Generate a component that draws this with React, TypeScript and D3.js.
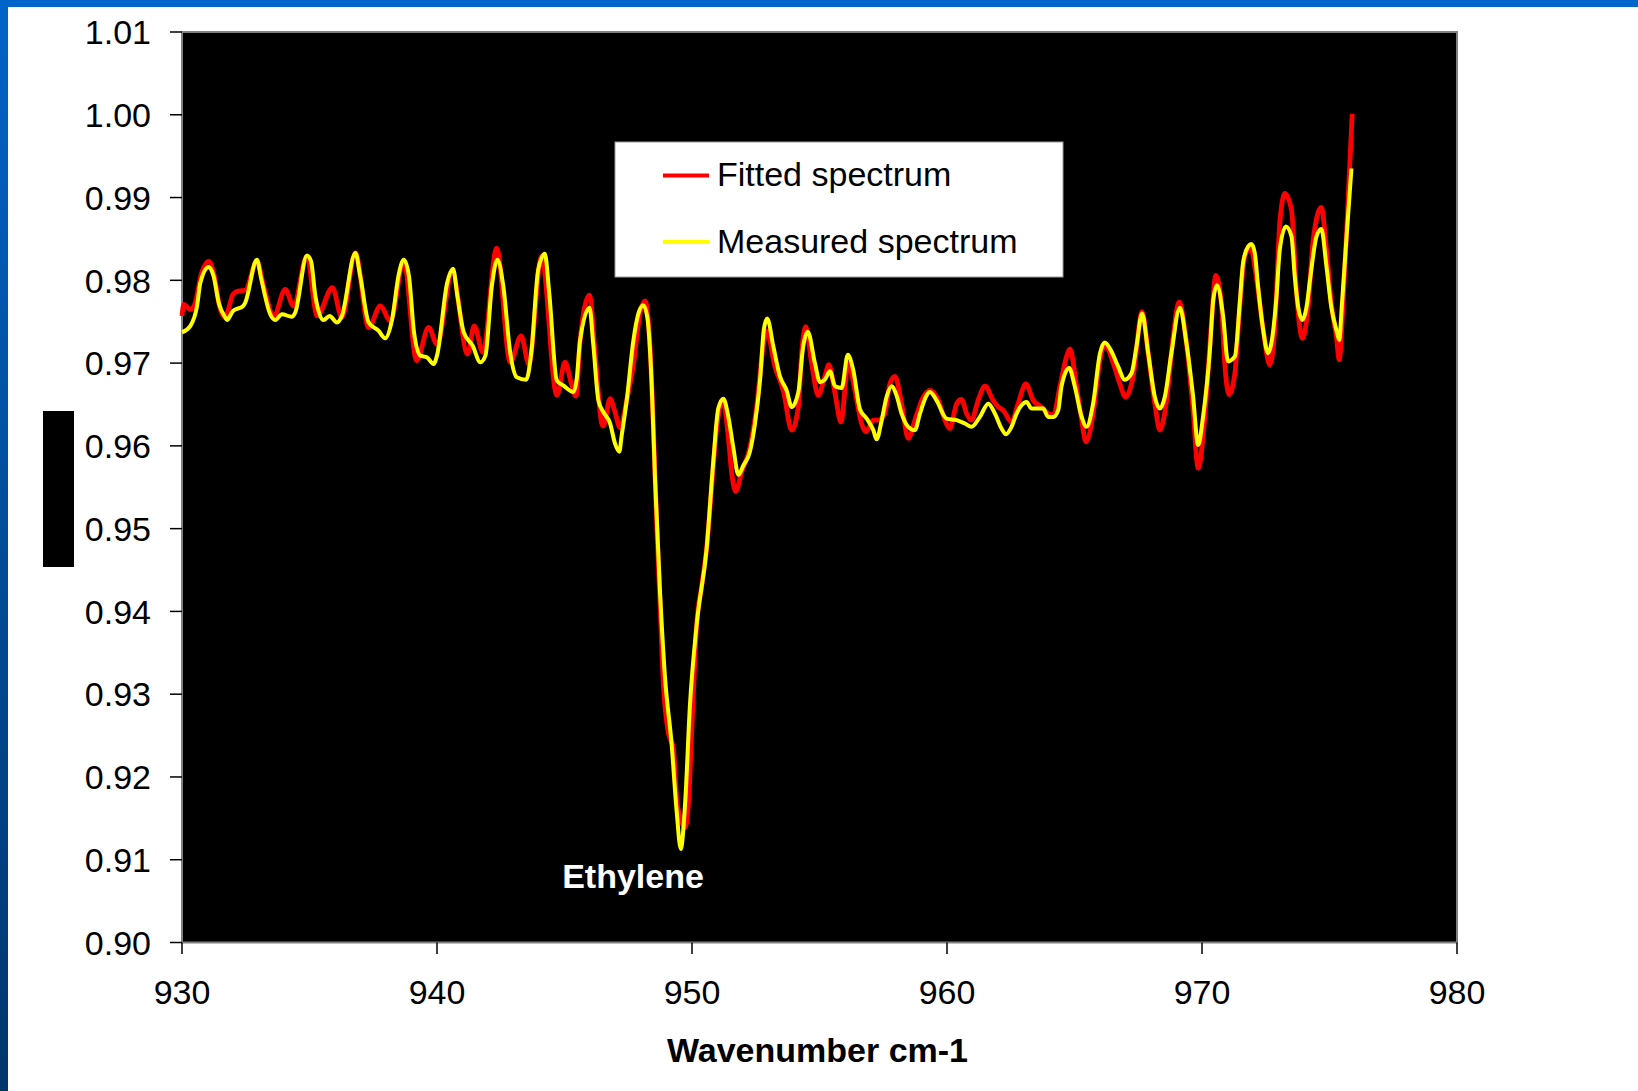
import React from "react";
import * as d3 from "d3";

const fittedWavenumber = [930.0,930.07,930.33,930.5,930.77,931.05,931.24,931.5,931.7,931.8,932.0,932.2,932.48,932.94,933.2,933.6,934.05,934.37,934.9,935.3,935.9,936.27,936.8,937.32,937.78,938.17,938.7,939.2,939.67,940.0,940.6,941.2,941.46,941.8,942.34,942.87,943.3,943.6,944.1,944.7,945.02,945.28,945.45,945.61,945.98,946.2,946.46,946.52,946.79,946.98,947.18,947.44,947.7,947.96,948.16,948.35,948.48,948.62,948.75,948.88,949.07,949.27,949.4,949.56,949.73,949.86,950.0,950.18,950.38,950.58,950.77,950.97,951.2,951.42,951.55,951.71,951.95,952.27,952.53,952.8,952.93,953.25,953.58,953.91,954.17,954.3,954.46,954.69,954.95,955.21,955.37,955.61,955.84,956.13,956.39,956.65,956.82,957.11,957.3,957.56,957.76,957.96,958.22,958.48,958.74,959.07,959.33,959.66,959.92,960.11,960.38,960.57,960.77,960.96,961.22,961.49,961.81,962.01,962.2,962.53,962.79,963.09,963.38,963.71,963.97,964.17,964.43,964.69,964.82,965.08,965.28,965.45,965.73,966.0,966.19,966.52,966.78,967.0,967.3,967.65,967.89,968.15,968.35,968.61,968.87,969.1,969.39,969.65,969.85,970.11,970.37,970.54,970.76,970.89,971.06,971.29,971.48,971.68,971.9,972.13,972.4,972.66,972.85,973.05,973.25,973.51,973.7,973.94,974.16,974.36,974.68,974.88,975.07,975.27,975.38,975.53,975.73,975.89];
const fittedValue = [0.9757,0.9771,0.9765,0.9771,0.9809,0.9823,0.9809,0.9765,0.9755,0.9763,0.9783,0.9787,0.9788,0.9823,0.9793,0.9757,0.9789,0.9769,0.9829,0.9757,0.9791,0.9755,0.9833,0.9743,0.9769,0.9751,0.9823,0.9703,0.9743,0.9723,0.9809,0.9711,0.9745,0.9713,0.9839,0.9701,0.9733,0.9699,0.9829,0.9661,0.9701,0.9674,0.966,0.9727,0.9782,0.9712,0.9627,0.9624,0.9657,0.9641,0.9622,0.9655,0.9698,0.976,0.9775,0.9722,0.9627,0.9502,0.9407,0.9311,0.9254,0.9235,0.9173,0.9149,0.9139,0.9168,0.9263,0.9383,0.9431,0.9478,0.955,0.9622,0.9655,0.9612,0.9569,0.9545,0.9569,0.9598,0.9646,0.9722,0.9739,0.9696,0.9667,0.9619,0.9647,0.9712,0.9744,0.97,0.9661,0.9684,0.9698,0.9663,0.9629,0.97,0.9667,0.9627,0.9617,0.9631,0.9631,0.9639,0.9675,0.9684,0.9651,0.9609,0.9631,0.9659,0.9667,0.9655,0.9631,0.9621,0.9651,0.9656,0.9639,0.9631,0.9655,0.9672,0.9655,0.9647,0.9643,0.9629,0.9651,0.9675,0.9655,0.9647,0.9639,0.9637,0.9672,0.9708,0.9717,0.9672,0.9631,0.9605,0.9639,0.9704,0.9722,0.97,0.9675,0.9659,0.9684,0.9762,0.9712,0.9651,0.9619,0.9655,0.9732,0.9774,0.9724,0.9643,0.9573,0.9635,0.9748,0.9806,0.9772,0.97,0.9662,0.9688,0.9768,0.9829,0.984,0.9804,0.974,0.9698,0.974,0.9869,0.9905,0.9885,0.9788,0.973,0.9768,0.9849,0.9888,0.9837,0.9772,0.9732,0.9704,0.9772,0.9897,1.0001];

const measuredWavenumber = [930.0,930.33,930.59,930.72,931.05,931.24,931.44,931.7,931.76,932.0,932.4,932.48,932.94,933.1,933.46,933.66,933.92,934.3,934.44,934.9,935.06,935.23,935.55,935.79,936.08,936.27,936.8,936.99,937.32,937.71,937.97,938.24,938.5,938.7,938.9,939.1,939.35,939.6,939.87,940.0,940.4,940.63,940.8,941.05,941.4,941.7,941.9,942.15,942.37,942.6,942.87,943.13,943.5,943.7,943.97,944.23,944.4,944.7,944.95,945.35,945.48,945.61,945.98,946.13,946.33,946.52,946.79,946.98,947.15,947.24,947.44,947.7,947.9,948.09,948.25,948.42,948.55,948.75,948.94,949.2,949.4,949.56,949.73,949.92,950.18,950.58,950.84,951.03,951.23,951.42,951.62,951.82,952.01,952.27,952.47,952.67,952.82,952.95,953.19,953.45,953.71,953.91,954.17,954.36,954.54,954.82,955.02,955.21,955.41,955.61,955.87,956.11,956.32,956.59,956.85,957.11,957.24,957.44,957.63,957.83,958.02,958.22,958.48,958.74,958.94,959.2,959.33,959.59,959.98,960.38,960.7,960.96,961.29,961.62,961.88,962.14,962.31,962.53,962.73,962.92,963.12,963.32,963.77,963.97,964.17,964.36,964.49,964.79,965.01,965.28,965.47,965.73,966.0,966.19,966.45,966.71,966.97,967.24,967.43,967.65,967.89,968.15,968.35,968.54,968.8,969.13,969.39,969.65,969.85,970.04,970.31,970.44,970.59,970.83,971.02,971.29,971.48,971.61,971.81,971.94,972.07,972.2,972.4,972.59,972.72,972.92,973.05,973.29,973.51,973.64,973.77,973.94,974.1,974.25,974.49,974.68,974.88,975.07,975.27,975.38,975.49,975.66,975.86];
const measuredValue = [0.9737,0.9745,0.9769,0.9797,0.9816,0.9805,0.9773,0.9755,0.9752,0.9763,0.9769,0.9773,0.9825,0.9803,0.9759,0.9752,0.9759,0.9756,0.9761,0.983,0.9823,0.9781,0.9752,0.9757,0.9749,0.9757,0.9833,0.9805,0.9749,0.9739,0.973,0.9753,0.9807,0.9825,0.9805,0.9737,0.9709,0.9707,0.9699,0.9709,0.9797,0.9814,0.9781,0.9737,0.9721,0.9701,0.9709,0.9793,0.9825,0.9793,0.9713,0.9683,0.968,0.9713,0.9813,0.9832,0.9785,0.9679,0.9673,0.9665,0.9681,0.9727,0.9767,0.9722,0.9655,0.9641,0.9627,0.9603,0.9593,0.9612,0.9655,0.9727,0.976,0.977,0.9755,0.9674,0.956,0.9421,0.9321,0.924,0.9158,0.9113,0.9168,0.9287,0.9383,0.9478,0.9583,0.9645,0.9657,0.9636,0.9598,0.9565,0.9576,0.9593,0.9627,0.968,0.9741,0.9754,0.972,0.9684,0.9667,0.9647,0.9665,0.972,0.9738,0.97,0.9677,0.968,0.969,0.9672,0.967,0.971,0.9692,0.9644,0.9633,0.9619,0.9608,0.9631,0.9659,0.9672,0.9661,0.9639,0.9623,0.9619,0.9639,0.9661,0.9665,0.9655,0.9633,0.9631,0.9627,0.9623,0.9635,0.9651,0.9639,0.9621,0.9614,0.9623,0.9639,0.9649,0.9653,0.9645,0.9645,0.9635,0.9635,0.9643,0.9672,0.9694,0.9672,0.9635,0.9623,0.9651,0.9712,0.9725,0.9714,0.9696,0.968,0.9688,0.972,0.976,0.9712,0.9659,0.9645,0.9659,0.9712,0.9767,0.9724,0.966,0.9601,0.9635,0.9716,0.9776,0.9794,0.9756,0.9702,0.9708,0.9772,0.9821,0.9841,0.9844,0.9833,0.9792,0.974,0.9712,0.9724,0.978,0.9837,0.9865,0.9853,0.9804,0.9768,0.9752,0.9768,0.9804,0.9853,0.9862,0.9817,0.9768,0.974,0.9728,0.9772,0.9849,0.9935];

const xTicks = [930, 940, 950, 960, 970, 980];
const yTicks = [0.90, 0.91, 0.92, 0.93, 0.94, 0.95, 0.96, 0.97, 0.98, 0.99, 1.00, 1.01];
const seriesNames = ["Fitted spectrum", "Measured spectrum"];
const xTitle = "Wavenumber cm-1";
const annotation = "Ethylene";

const W = 1638, H = 1091;
const L = 182, R = 1457, T = 32, B = 942.5;
const FONT = "Arial, 'Liberation Sans', sans-serif";

export default function App() {
  const x = d3.scaleLinear().domain([930, 980]).range([L, R]);
  const y = d3.scaleLinear().domain([0.90, 1.01]).range([B, T]);
  const line = d3.line<[number, number]>().x(d => x(d[0])).y(d => y(d[1])).curve(d3.curveMonotoneX);
  const fitted = fittedWavenumber.map((w, i) => [w, fittedValue[i]] as [number, number]);
  const measured = measuredWavenumber.map((w, i) => [w, measuredValue[i]] as [number, number]);

  return (
    <div style={{ position: "absolute", left: 0, top: 0 }}>
      <svg width={W} height={H} style={{ display: "block" }}>
        <defs>
          <linearGradient id="side" x1="0" y1="0" x2="0" y2="1">
            <stop offset="0" stopColor="#0064C8" />
            <stop offset="1" stopColor="#00366C" />
          </linearGradient>
        </defs>
        <rect x={0} y={0} width={W} height={H} fill="#ffffff" />
        <rect x={0} y={0} width={W} height={7} fill="#0066CC" />
        <rect x={0} y={0} width={8} height={H} fill="url(#side)" />
        {/* obscured y-axis title */}
        <rect x={43} y={411} width={31} height={156} fill="#000" />
        {/* plot area */}
        <rect x={L} y={T} width={R - L} height={B - T} fill="#000" stroke="#808080" strokeWidth={2} />
        {/* y ticks */}
        {yTicks.map(t => (
          <g key={"y" + t}>
            <line x1={170} x2={L} y1={y(t)} y2={y(t)} stroke="#000" strokeWidth={1.5} />
            <text x={151} y={y(t)} dy="0.36em" textAnchor="end" fontFamily={FONT} fontSize={34} fill="#000">
              {t.toFixed(2)}
            </text>
          </g>
        ))}
        {/* x ticks */}
        {xTicks.map(t => (
          <g key={"x" + t}>
            <line x1={x(t)} x2={x(t)} y1={B} y2={954} stroke="#000" strokeWidth={1.5} />
            <text x={x(t)} y={1004} textAnchor="middle" fontFamily={FONT} fontSize={34} fill="#000">
              {t}
            </text>
          </g>
        ))}
        <text x={(L + R) / 2 - 2} y={1062} textAnchor="middle" fontFamily={FONT} fontWeight="bold" fontSize={34} fill="#000">
          {xTitle}
        </text>
        {/* series */}
        <g>
          <path d={line(fitted) || ""} fill="none" stroke="#FF0000" strokeWidth={4.8} strokeLinejoin="round" />
          <path d={line(measured) || ""} fill="none" stroke="#FFFF00" strokeWidth={4} strokeLinejoin="round" />
        </g>
        <text x={633} y={888} textAnchor="middle" fontFamily={FONT} fontWeight="bold" fontSize={34} fill="#fff">
          {annotation}
        </text>
        {/* legend */}
        <rect x={615} y={142} width={448} height={135} fill="#fff" stroke="#9a9a9a" strokeWidth={1} />
        <line x1={663} x2={709} y1={175.5} y2={175.5} stroke="#FF0000" strokeWidth={4} />
        <text x={717} y={186} fontFamily={FONT} fontSize={34} fill="#000">{seriesNames[0]}</text>
        <line x1={663} x2={709} y1={242} y2={242} stroke="#FFFF00" strokeWidth={4} />
        <text x={717} y={253} fontFamily={FONT} fontSize={34} fill="#000">{seriesNames[1]}</text>
      </svg>
    </div>
  );
}
